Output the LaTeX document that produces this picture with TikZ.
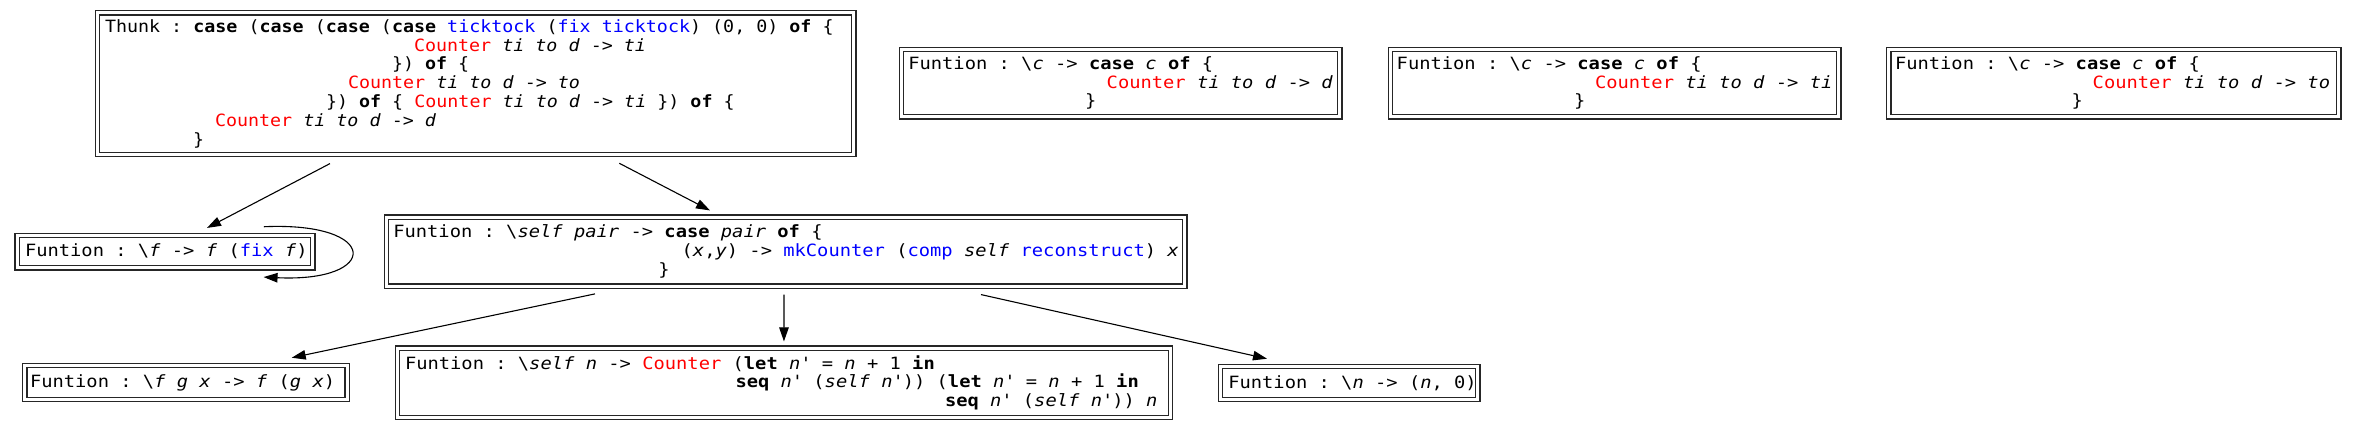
\documentclass[tikz,border=0pt]{standalone}
\usepackage{fontspec}
\usetikzlibrary{arrows.meta}
\newfontfamily\mono[FakeStretch=1.11,ItalicFont={DejaVu Sans Mono Oblique},BoldFont={DejaVu Sans Mono Bold},BoldItalicFont={DejaVu Sans Mono Bold Oblique}]{DejaVu Sans Mono}
\newfontfamily\monoT[FakeStretch=1.085,ItalicFont={DejaVu Sans Mono Oblique},BoldFont={DejaVu Sans Mono Bold},BoldItalicFont={DejaVu Sans Mono Bold Oblique}]{DejaVu Sans Mono}
\newlength\Cw
\newcommand\Kw[1]{\textbf{#1}}
\newcommand\Vr[1]{\textit{#1}}
\newcommand\Rd[1]{\textcolor{red}{#1}}
\newcommand\Bl[1]{\textcolor{blue}{#1}}
\newcommand\Bs{\textbackslash}
\newcommand\Qt{\textquotesingle}
\newcommand\Ln[2]{\mbox{\settowidth{\Cw}{x}\spaceskip=\Cw\xspaceskip=\Cw\hspace*{#1pt}#2}}
\begin{document}
\begin{tikzpicture}[x=1pt,y=-1pt,
  fbox/.style={draw=black!85, line width=1.15pt, double=white, double distance=3.2pt, inner sep=0pt, align=left, font=\mono\fontsize{16.9}{18.8}\selectfont},
  fboxT/.style={fbox, font=\monoT\fontsize{16.9}{18.8}\selectfont},
  arr/.style={-{Triangle[length=14pt,width=9.5pt]}, line width=1.1pt}]
\useasboundingbox (0,0) rectangle (2356,429);

\node[fboxT, minimum width=756.2pt, minimum height=141.7pt, text width=741.5pt] (A) at (475.75,83.7)
{\Ln{0}{Thunk : \Kw{case} (\Kw{case} (\Kw{case} (\Kw{case} \Bl{ticktock} (\Bl{fix} \Bl{ticktock}) (0, 0) \Kw{of} \{}\\
 \Ln{309}{\Rd{Counter} \Vr{ti} \Vr{to} \Vr{d} -> \Vr{ti}}\\
 \Ln{287}{\}) \Kw{of} \{}\\
 \Ln{243}{\Rd{Counter} \Vr{ti} \Vr{to} \Vr{d} -> \Vr{to}}\\
 \Ln{221}{\}) \Kw{of} \{ \Rd{Counter} \Vr{ti} \Vr{to} \Vr{d} -> \Vr{ti} \}) \Kw{of} \{}\\
 \Ln{110}{\Rd{Counter} \Vr{ti} \Vr{to} \Vr{d} -> \Vr{d}}\\
 \Ln{88}{\}}};

\node[fbox, minimum width=438.4pt, minimum height=67.4pt, text width=424.7pt] (B) at (1120.65,83.15)
{\Ln{0}{Funtion : \Bs\Vr{c} -> \Kw{case} \Vr{c} \Kw{of} \{}\\
 \Ln{198.4}{\Rd{Counter} \Vr{ti} \Vr{to} \Vr{d} -> \Vr{d}}\\
 \Ln{176.7}{\}}};

\node[fbox, minimum width=448.4pt, minimum height=67.4pt, text width=435.9pt] (C) at (1614.65,83.15)
{\Ln{0}{Funtion : \Bs\Vr{c} -> \Kw{case} \Vr{c} \Kw{of} \{}\\
 \Ln{198.3}{\Rd{Counter} \Vr{ti} \Vr{to} \Vr{d} -> \Vr{ti}}\\
 \Ln{177.3}{\}}};

\node[fbox, minimum width=450pt, minimum height=67.4pt, text width=437.7pt] (D) at (2113.85,83.15)
{\Ln{0}{Funtion : \Bs\Vr{c} -> \Kw{case} \Vr{c} \Kw{of} \{}\\
 \Ln{197.7}{\Rd{Counter} \Vr{ti} \Vr{to} \Vr{d} -> \Vr{to}}\\
 \Ln{176.7}{\}}};

\node[fbox, minimum width=295.7pt, minimum height=32.4pt, text width=280pt] (E) at (165,251.65)
{\Ln{0}{Funtion : \Bs\Vr{f} -> \Vr{f} (\Bl{fix} \Vr{f})}};

\node[fbox, minimum width=798.2pt, minimum height=69pt, text width=784.9pt] (F) at (785.75,251.65)
{\Ln{0}{Funtion : \Bs\Vr{self} \Vr{pair} -> \Kw{case} \Vr{pair} \Kw{of} \{}\\
 \Ln{288.4}{(\Vr{x},\Vr{y}) -> \Bl{mkCounter} (\Bl{comp} \Vr{self} \Bl{reconstruct}) \Vr{x}}\\
 \Ln{265}{\}}};

\node[fbox, minimum width=322.3pt, minimum height=34.1pt, text width=312pt] (G) at (186,382.5)
{\Ln{0}{Funtion : \Bs\Vr{f} \Vr{g} \Vr{x} -> \Vr{f} (\Vr{g} \Vr{x})}};

\node[fbox, minimum width=773.2pt, minimum height=69.2pt, text width=757.9pt] (H) at (783.95,382.75)
{\Ln{0}{Funtion : \Bs\Vr{self} \Vr{n} -> \Rd{Counter} (\Kw{let} \Vr{n}\Qt{} = \Vr{n} + 1 \Kw{in}}\\
 \Ln{330.5}{\Kw{seq} \Vr{n}\Qt{} (\Vr{self} \Vr{n}\Qt)) (\Kw{let} \Vr{n}\Qt{} = \Vr{n} + 1 \Kw{in}}\\
 \Ln{540}{\Kw{seq} \Vr{n}\Qt{} (\Vr{self} \Vr{n}\Qt)) \Vr{n}}};

\node[fbox, minimum width=257.4pt, minimum height=32.9pt, text width=241.7pt] (I) at (1349.15,383.1)
{\Ln{0}{Funtion : \Bs\Vr{n} -> (\Vr{n}, 0)}};

\draw[arr] ([shift={(-145.75,8.45)}]A.south) -- ([shift={(42,-6.95)}]E.north);
\draw[arr] ([shift={(143.55,8.15)}]A.south) -- ([shift={(-75.75,-6.15)}]F.north);
\draw[arr] ([shift={(-49.55,-8.15)}]E.north east) .. controls +(116.7,-5.3) and +(117,5.5) .. ([shift={(-49.85,8.65)}]E.south east);
\draw[arr] ([shift={(-190.75,7.15)}]F.south) -- ([shift={(105.7,-7.15)}]G.north);
\draw[arr] ([shift={(-1.75,7.85)}]F.south) -- ([shift={(0,-6.15)}]H.north);
\draw[arr] ([shift={(195.25,7.85)}]F.south) -- ([shift={(-82.15,-7.35)}]I.north);
\end{tikzpicture}
\end{document}
